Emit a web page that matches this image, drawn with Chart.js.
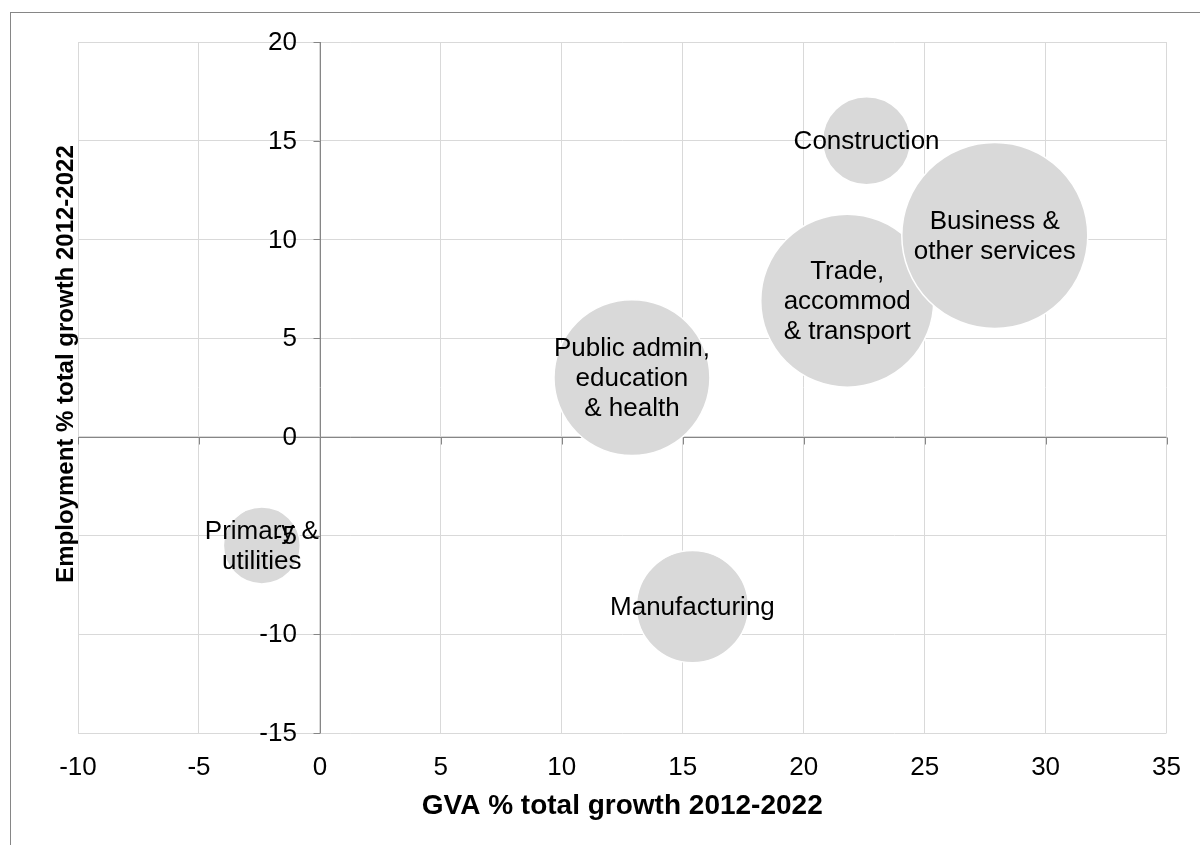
<!DOCTYPE html>
<html>
<head>
<meta charset="utf-8">
<title>GVA and employment growth by sector</title>
<script src="https://cdn.jsdelivr.net/npm/chart.js@4/dist/chart.umd.min.js"></script>
<style>
    html, body { margin: 0; padding: 0; background: #fff; overflow: hidden; }
    #wrap { position: relative; width: 1200px; height: 845px; }
</style>
</head>
<body>
<div id="wrap"><canvas id="bubbleChart"></canvas></div>
<script>
// Sectors, with the text shown inside each bubble (one entry per line)
const sectors = ['Primary & utilities', 'Construction', 'Manufacturing',
    'Trade, accommod & transport', 'Business & other services', 'Public admin, education & health'];
const sectorLines = [
    ['Primary &', 'utilities'],
    ['Construction'],
    ['Manufacturing'],
    ['Trade,', 'accommod', '& transport'],
    ['Business &', 'other services'],
    ['Public admin,', 'education', '& health']
];

// % total growth 2012-2022
const gvaGrowth = [-2.4, 22.6, 15.4, 21.8, 27.9, 12.9];
const empGrowth = [-5.5, 15.0, -8.6, 6.9, 10.2, 3.0];
// relative sector size (bubble area)
const bubbleSize = [17.1, 22.4, 36.3, 86.5, 100, 70.3];

const xTicks = [-10, -5, 0, 5, 10, 15, 20, 25, 30, 35];
const yTicks = [-15, -10, -5, 0, 5, 10, 15, 20];

const FONT = "'Liberation Sans', Arial, sans-serif";
const AXIS_GREY = '#868686';
const GRID_GREY = '#d9d9d9';
const MAX_RADIUS = 93;
const TICK_LEN = 7;

const maxSize = Math.max(...bubbleSize);
const points = gvaGrowth.map((x, i) => ({
    x: x,
    y: empGrowth[i],
    r: MAX_RADIUS * Math.sqrt(bubbleSize[i] / maxSize)
}));

// Frame around the whole chart
const outerFrame = {
    id: 'outerFrame',
    beforeDraw(chart) {
        const ctx = chart.ctx;
        ctx.save();
        ctx.strokeStyle = AXIS_GREY;
        ctx.lineWidth = 1;
        ctx.strokeRect(10.5, 12.5, 1400, 1000);
        ctx.restore();
    }
};

// Axis lines crossing at (0, 0), with their tick marks, under the bubbles
const crossAxes = {
    id: 'crossAxes',
    beforeDatasetsDraw(chart) {
        const {ctx, chartArea, scales: {x, y}} = chart;
        const x0 = Math.round(x.getPixelForValue(0)) + 0.5;
        const y0 = Math.round(y.getPixelForValue(0)) + 0.5;
        ctx.save();
        ctx.strokeStyle = AXIS_GREY;
        ctx.lineWidth = 1;
        ctx.beginPath();
        // horizontal axis
        ctx.moveTo(chartArea.left, y0);
        ctx.lineTo(chartArea.right, y0);
        xTicks.forEach(v => {
            const px = Math.round(x.getPixelForValue(v)) + 0.5;
            ctx.moveTo(px, y0);
            ctx.lineTo(px, y0 + TICK_LEN);
        });
        // vertical axis
        ctx.moveTo(x0, chartArea.top);
        ctx.lineTo(x0, chartArea.bottom);
        yTicks.forEach(v => {
            const py = Math.round(y.getPixelForValue(v)) + 0.5;
            ctx.moveTo(x0, py);
            ctx.lineTo(x0 - TICK_LEN, py);
        });
        ctx.stroke();
        ctx.restore();
    }
};

// Sector names written in the middle of each bubble
const bubbleLabels = {
    id: 'bubbleLabels',
    afterDatasetsDraw(chart) {
        const ctx = chart.ctx;
        const meta = chart.getDatasetMeta(0);
        ctx.save();
        ctx.font = '26px ' + FONT;
        ctx.fillStyle = '#000';
        ctx.textAlign = 'center';
        ctx.textBaseline = 'middle';
        const lineH = 30;
        meta.data.forEach((el, i) => {
            const lines = sectorLines[i];
            const top = el.y - (lines.length - 1) * lineH / 2;
            lines.forEach((t, k) => ctx.fillText(t, el.x, top + k * lineH + 1));
        });
        ctx.restore();
    }
};

// Vertical axis labels beside the x = 0 line, and the vertical axis title
const yAxisText = {
    id: 'yAxisText',
    afterDraw(chart) {
        const {ctx, scales: {x, y}} = chart;
        const x0 = x.getPixelForValue(0);
        ctx.save();
        ctx.font = '26px ' + FONT;
        ctx.fillStyle = '#000';
        ctx.textAlign = 'right';
        ctx.textBaseline = 'middle';
        yTicks.forEach(v => ctx.fillText(String(v), x0 - 23, y.getPixelForValue(v) + 1));

        ctx.translate(66, 364);
        ctx.rotate(-Math.PI / 2);
        ctx.font = 'bold 24px ' + FONT;
        ctx.textAlign = 'center';
        ctx.fillText('Employment % total growth 2012-2022', 0, 0);
        ctx.restore();
    }
};

const ctx = document.getElementById('bubbleChart').getContext('2d');
const bubbleChart = new Chart(ctx, {
    type: 'bubble',
    data: {
        datasets: [{
            label: 'Sectors',
            data: points,
            backgroundColor: GRID_GREY,
            borderColor: '#ffffff',
            borderWidth: 1.5,
            hoverRadius: 0,
            hoverBorderWidth: 1.5
        }]
    },
    options: {
        responsive: true,
        maintainAspectRatio: false,
        animation: false,
        events: [],
        layout: {
            autoPadding: false,
            padding: { left: 78, top: 42, right: 31, bottom: 22 }
        },
        plugins: {
            legend: { display: false },
            tooltip: { enabled: false }
        },
        scales: {
            x: {
                type: 'linear',
                min: -10,
                max: 35,
                afterBuildTicks: axis => { axis.ticks = xTicks.map(v => ({ value: v })); },
                afterFit: axis => { axis.height = 90; },
                ticks: {
                    color: '#000',
                    font: { family: FONT, size: 26 },
                    padding: 19,
                    maxRotation: 0
                },
                grid: { color: GRID_GREY, lineWidth: 1, drawTicks: false },
                border: { display: false },
                title: {
                    display: true,
                    text: 'GVA % total growth 2012-2022',
                    color: '#000',
                    font: { family: FONT, size: 28, weight: 'bold' },
                    padding: { top: 6, bottom: 0 }
                }
            },
            y: {
                type: 'linear',
                position: 'left',
                min: -15,
                max: 20,
                afterBuildTicks: axis => { axis.ticks = yTicks.map(v => ({ value: v })); },
                ticks: { display: false },
                grid: { color: GRID_GREY, lineWidth: 1, drawTicks: false },
                border: { display: false }
            }
        }
    },
    plugins: [outerFrame, crossAxes, bubbleLabels, yAxisText]
});
</script>
</body>
</html>
